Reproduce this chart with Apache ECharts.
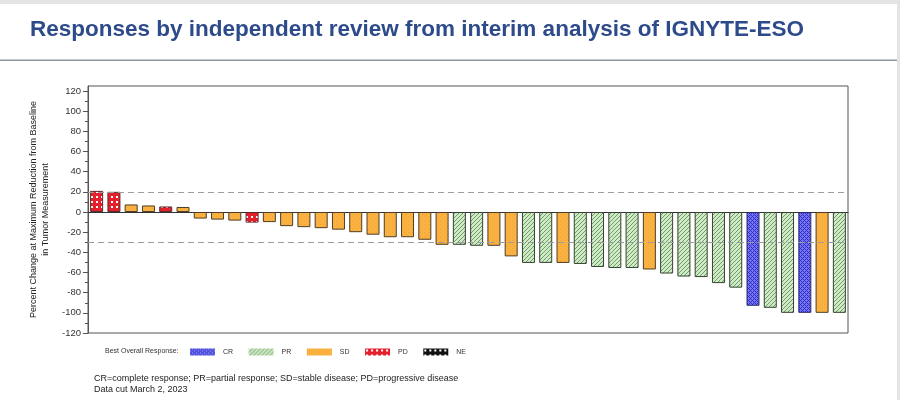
<!DOCTYPE html>
<html><head><meta charset="utf-8">
<script src="https://cdn.jsdelivr.net/npm/echarts@6/dist/echarts.min.js"></script>
<style>
html,body{margin:0;padding:0;background:#fff;}
#wrap{position:relative;width:900px;height:400px;overflow:hidden;background:#fff;}
#chart{position:absolute;left:0;top:0;width:900px;height:400px;}
.strip{position:absolute;background:#e4e4e4;}
</style></head><body>
<div id="wrap"><div id="chart"></div>
<div class="strip" style="left:0;top:0;width:900px;height:4px"></div>
<div class="strip" style="right:0;top:0;width:3px;height:400px"></div>
</div>
<script>
// Best overall response for each patient (sorted waterfall order)
const responses = ['PD','PD','SD','SD','PD','SD','SD','SD','SD','PD',
                   'SD','SD','SD','SD','SD','SD','SD','SD','SD','SD',
                   'SD','PR','PR','SD','SD','PR','PR','SD','PR','PR',
                   'PR','PR','SD','PR','PR','PR','PR','PR','CR','PR',
                   'PR','CR','SD','PR'];
// Percent change at maximum reduction from baseline
const changes = [21, 20, 7.5, 6.5, 5.5, 5, -6.5, -7.5, -8.5, -10.5,
                 -10, -14, -15, -16, -17.5, -20, -22.5, -25, -25, -27.5,
                 -32.5, -32.5, -33.5, -33.5, -44, -50.5, -50.5, -50.5, -51.5, -54.5,
                 -55.5, -55.5, -57, -61, -64, -64.5, -70.5, -75, -93, -95,
                 -100, -100, -100, -100];
const responseTypes = ['CR','PR','SD','PD','NE'];
const yLabelTicks = [-120,-100,-80,-60,-40,-20,0,20,40,60,80,100,120];
const yMinorTicks = [-110,-90,-70,-50,-30,-10,10,30,50,70,90,110];
const thresholds = [20, -30];
const patients = changes.map((v, i) => String(i + 1));

function pattern(size, base, draw) {
  const c = document.createElement('canvas');
  c.width = size; c.height = size;
  const ctx = c.getContext('2d');
  ctx.fillStyle = base; ctx.fillRect(0, 0, size, size);
  draw(ctx);
  return { image: c, repeat: 'repeat' };
}
const patterns = {
  CR: pattern(4, '#7474f4', ctx => {
    ctx.fillStyle = '#3030c4';
    [[0,0],[1,1],[2,2],[3,3],[3,1],[1,3]].forEach(p => ctx.fillRect(p[0], p[1], 1, 1));
  }),
  PR: pattern(4, '#d0eac8', ctx => {
    ctx.fillStyle = '#6e9f66';
    for (let x = 0; x < 4; x++) ctx.fillRect(x, 3 - x, 1, 1);
  }),
  SD: pattern(4, '#fab243', ctx => {
    ctx.fillStyle = '#f3a232';
    ctx.fillRect(0, 0, 1, 1); ctx.fillRect(2, 2, 1, 1);
  }),
  PD: pattern(5, '#e3202b', ctx => {
    ctx.fillStyle = '#ffffff';
    ctx.fillRect(1, 1, 2, 2);
  }),
  NE: pattern(5, '#111111', ctx => {
    ctx.fillStyle = '#ffffff';
    ctx.fillRect(1, 1, 2, 2);
  })
};
const borders = { CR: '#2a2a6a', PR: '#34432f', SD: '#4e3e22', PD: '#5a2a2a', NE: '#111' };

const FONT = '"Liberation Sans", Arial, sans-serif';
const chart = echarts.init(document.getElementById('chart'));

const series = responseTypes.map((t, k) => ({
  name: t,
  type: 'bar',
  stack: 'all',
  barWidth: 13,
  yAxisIndex: 0,
  data: changes.map((v, i) => responses[i] === t ? v : '-'),
  itemStyle: { color: patterns[t], borderColor: borders[t], borderWidth: 1 },
  markLine: k === 0 ? {
    silent: true, symbol: 'none', label: { show: false },
    lineStyle: { color: '#9c9c9c', type: [6, 4], width: 1 },
    data: thresholds.map(v => ({ yAxis: v }))
  } : undefined
}));

chart.setOption({
  animation: false,
  backgroundColor: '#ffffff',
  textStyle: { fontFamily: FONT },
  grid: { left: 88, right: 52, top: 86, bottom: 67, show: true, borderColor: '#555', borderWidth: 1, backgroundColor: 'transparent' },
  legend: {
    data: responseTypes, left: 190, top: 348.5, padding: 0,
    itemWidth: 25, itemHeight: 7, itemGap: 15.5, icon: 'rect',
    itemStyle: { borderWidth: 0 },
    textStyle: { fontSize: 7, color: '#333', fontFamily: FONT, padding: [0, 0, 0, 3] }
  },
  xAxis: {
    type: 'category', data: patients,
    axisLine: { show: true, onZero: true, lineStyle: { color: '#333', width: 1 } },
    axisTick: { show: false }, axisLabel: { show: false }, splitLine: { show: false }
  },
  yAxis: [{
    type: 'value', min: -120, max: 125, interval: 20,
    name: 'Percent Change at Maximum Reduction from Baseline\nin Tumor Measurement',
    nameLocation: 'middle', nameRotate: 90, nameGap: 33.5,
    nameTextStyle: { fontSize: 9, color: '#222', lineHeight: 11.5, fontFamily: FONT },
    axisLine: { show: true, lineStyle: { color: '#555' } },
    axisTick: { show: true, length: 5, customValues: yLabelTicks, lineStyle: { color: '#555' } },
    axisLabel: { fontSize: 9.5, color: '#333', margin: 7, customValues: yLabelTicks, fontFamily: FONT },
    splitLine: { show: false }
  }, {
    type: 'value', min: -120, max: 125, interval: 20, position: 'left',
    axisLine: { show: false },
    axisTick: { show: true, length: 3, customValues: yMinorTicks, lineStyle: { color: '#555' } },
    axisLabel: { show: false }, splitLine: { show: false }
  }],
  graphic: [
    { type: 'text', left: 30, top: 18, style: { text: 'Responses by independent review from interim analysis of IGNYTE-ESO', font: 'bold 22.5px ' + FONT, fill: '#2d4a8a' } },
    { type: 'rect', left: 0, top: 59.5, shape: { width: 897, height: 1.5 }, style: { fill: '#8f959d' } },
    { type: 'text', left: 105, top: 348, style: { text: 'Best Overall Response:', font: '7px ' + FONT, fill: '#333' } },
    { type: 'text', left: 94, top: 373, style: { text: 'CR=complete response; PR=partial response; SD=stable disease; PD=progressive disease\nData cut March 2, 2023', font: '9px ' + FONT, fill: '#222', lineHeight: 11 } }
  ],
  series: series
});
</script>
</body></html>
